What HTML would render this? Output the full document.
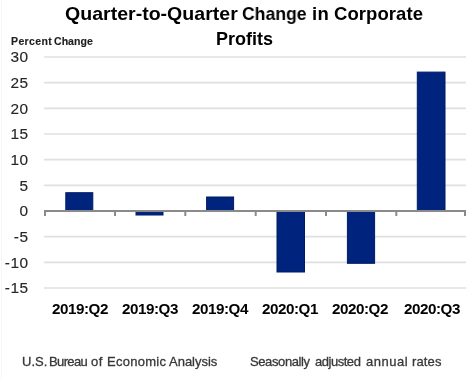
<!DOCTYPE html>
<html><head><meta charset="utf-8">
<style>
html,body{margin:0;padding:0;background:#fff;}
body{width:471px;height:380px;position:relative;overflow:hidden;font-family:"Liberation Sans",sans-serif;}
.t{position:absolute;white-space:nowrap;line-height:1;will-change:transform;}
.title{font-weight:bold;font-size:18.5px;color:#000;}
.pc{font-weight:bold;font-size:10.5px;color:#1e1e1e;-webkit-text-stroke:0.15px #1e1e1e;}
.yl{font-size:15.4px;letter-spacing:0.5px;-webkit-text-stroke:0.15px #262626;color:#262626;text-align:right;width:40.5px;}
.xl{font-weight:bold;font-size:15.2px;letter-spacing:-0.45px;color:#000;text-align:center;width:70px;}
.ft{font-size:13px;color:#383838;-webkit-text-stroke:0.3px #383838;}
svg{position:absolute;left:0;top:0;}
</style></head><body>
<svg width="471" height="380" viewBox="0 0 471 380">
  <line x1="1.5" y1="0" x2="1.5" y2="380" stroke="#f7f7f7" stroke-width="1"/>
  <g stroke="#e0e0e0" stroke-width="1.6">
    <line x1="44" y1="57" x2="466" y2="57"/>
    <line x1="44" y1="82.67" x2="466" y2="82.67"/>
    <line x1="44" y1="108.33" x2="466" y2="108.33"/>
    <line x1="44" y1="134" x2="466" y2="134"/>
    <line x1="44" y1="159.67" x2="466" y2="159.67"/>
    <line x1="44" y1="185.33" x2="466" y2="185.33"/>
    <line x1="44" y1="236.67" x2="466" y2="236.67"/>
    <line x1="44" y1="262.33" x2="466" y2="262.33"/>
    <line x1="44" y1="288" x2="466" y2="288"/>
  </g>
  <g fill="#00247d" stroke="#001b66" stroke-width="1">
    <rect x="65.80" y="192.70" width="27.00" height="17.80"/>
    <rect x="136.00" y="211.50" width="27.00" height="3.50"/>
    <rect x="206.60" y="197.00" width="27.00" height="13.50"/>
    <rect x="277.00" y="211.50" width="27.50" height="60.50"/>
    <rect x="347.40" y="211.50" width="27.20" height="51.80"/>
    <rect x="417.30" y="72.10" width="27.70" height="138.40"/>
  </g>
  <g stroke="#8a8a8a" stroke-width="2">
    <line x1="44" y1="211" x2="466" y2="211"/>
    <line x1="45" y1="210" x2="45" y2="216"/>
    <line x1="115" y1="210" x2="115" y2="216"/>
    <line x1="185.3" y1="210" x2="185.3" y2="216"/>
    <line x1="255.7" y1="210" x2="255.7" y2="216"/>
    <line x1="326" y1="210" x2="326" y2="216"/>
    <line x1="396.3" y1="210" x2="396.3" y2="216"/>
    <line x1="465" y1="210" x2="465" y2="216"/>
  </g>
</svg>
<div class="t title" style="left:64.7px;top:4.8px;transform:scaleX(1.057);transform-origin:0 0;">Quarter-to-Quarter</div>
<div class="t title" style="left:241.5px;top:4.8px;transform:scaleX(0.952);transform-origin:0 0;">Change</div>
<div class="t title" style="left:311.5px;top:4.8px;letter-spacing:0.4px;">in</div>
<div class="t title" style="left:333.8px;top:4.8px;letter-spacing:0.075px;">Corporate</div>
<div class="t title" style="left:215.5px;top:30px;font-size:18px;letter-spacing:0;">Profits</div>
<div class="t pc" style="left:11.4px;top:36.2px;letter-spacing:0.38px;">Percent</div>
<div class="t pc" style="left:54.1px;top:36.2px;letter-spacing:0.05px;">Change</div>
<div class="t yl" style="left:-12px;top:49.40px;">30</div>
<div class="t yl" style="left:-12px;top:75.07px;">25</div>
<div class="t yl" style="left:-12px;top:100.73px;">20</div>
<div class="t yl" style="left:-12px;top:126.40px;">15</div>
<div class="t yl" style="left:-12px;top:152.07px;">10</div>
<div class="t yl" style="left:-12px;top:177.74px;">5</div>
<div class="t yl" style="left:-12px;top:203.40px;">0</div>
<div class="t yl" style="left:-12px;top:229.07px;">-5</div>
<div class="t yl" style="left:-12px;top:254.74px;">-10</div>
<div class="t yl" style="left:-12px;top:280.40px;">-15</div>
<div class="t xl" style="left:44.5px;top:301.2px;">2019:Q2</div>
<div class="t xl" style="left:115.0px;top:301.2px;">2019:Q3</div>
<div class="t xl" style="left:184.7px;top:301.2px;">2019:Q4</div>
<div class="t xl" style="left:255.0px;top:301.2px;">2020:Q1</div>
<div class="t xl" style="left:325.3px;top:301.2px;">2020:Q2</div>
<div class="t xl" style="left:396.5px;top:301.2px;">2020:Q3</div>
<div class="t ft" style="left:21.8px;top:354.6px;letter-spacing:0.00px;">U.S.</div>
<div class="t ft" style="left:49.0px;top:354.6px;letter-spacing:-0.62px;">Bureau</div>
<div class="t ft" style="left:91.4px;top:354.6px;letter-spacing:0.55px;">of</div>
<div class="t ft" style="left:106.9px;top:354.6px;letter-spacing:0.27px;">Economic</div>
<div class="t ft" style="left:169.1px;top:354.6px;letter-spacing:-0.01px;">Analysis</div>
<div class="t ft" style="left:249.6px;top:354.6px;letter-spacing:-0.39px;">Seasonally</div>
<div class="t ft" style="left:314.5px;top:354.6px;letter-spacing:-0.47px;">adjusted</div>
<div class="t ft" style="left:365.5px;top:354.6px;letter-spacing:0.50px;">annual</div>
<div class="t ft" style="left:412.0px;top:354.6px;letter-spacing:0.14px;">rates</div>
</body></html>
